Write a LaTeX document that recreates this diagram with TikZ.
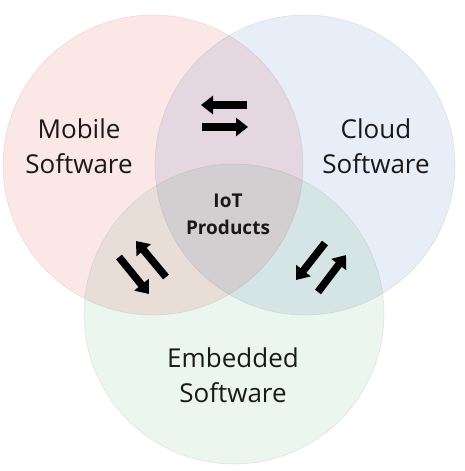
\documentclass[tikz,border=0pt]{standalone}
\usepackage{fontspec}
\setmainfont{Open Sans}
\usetikzlibrary{arrows.meta}
\definecolor{mobilec}{RGB}{252,231,231}
\definecolor{cloudc}{RGB}{232,238,247}
\definecolor{embedc}{RGB}{235,246,238}
\definecolor{edgec}{RGB}{236,236,236}
\tikzset{
  venn/.style={circle, minimum size=300pt, inner sep=0pt, draw=edgec, line width=0.6pt},
  lab/.style={align=center, font=\fontsize{26}{35}\selectfont, text=black!90},
  core/.style={align=center, font=\bfseries\fontsize{19}{27}\selectfont, text=black!90},
  flow/.style={line width=7.5pt, -{Triangle[width=18pt,length=12pt]}}
}
\begin{document}
\begin{tikzpicture}[x=1pt,y=-1pt]
\useasboundingbox (0,0) rectangle (464,471);
\fill[white] (0,0) rectangle (464,471);
\begin{scope}[blend mode=multiply]
\node[venn, fill=mobilec] (mobile) at (153,165) {};
\node[venn, fill=cloudc] (cloud) at (305,165) {};
\node[venn, fill=embedc] (embed) at (234,314) {};
\end{scope}
\node[lab] (tmobile) at (79,146) {Mobile\\Software};
\node[lab] (tcloud) at (376,146) {Cloud\\Software};
\node[lab] (tembed) at (233,375) {Embedded\\Software};
\node[core] (tiot) at (228,214) {IoT\\Products};
% top pair
\coordinate (a1s) at (247,105); \coordinate (a1e) at (201,105);
\coordinate (a2s) at (202,127); \coordinate (a2e) at (248,127);
\draw[flow] (a1s) -- (a1e);
\draw[flow] (a2s) -- (a2e);
% left pair
\coordinate (b1s) at (119,257); \coordinate (b1e) at (149,294);
\coordinate (b2s) at (166,277); \coordinate (b2e) at (136,241);
\draw[flow] (b1s) -- (b1e);
\draw[flow] (b2s) -- (b2e);
% right pair
\coordinate (c1s) at (325,243); \coordinate (c1e) at (296,280);
\coordinate (c2s) at (318,292); \coordinate (c2e) at (346,255);
\draw[flow] (c1s) -- (c1e);
\draw[flow] (c2s) -- (c2e);
\end{tikzpicture}
\end{document}
